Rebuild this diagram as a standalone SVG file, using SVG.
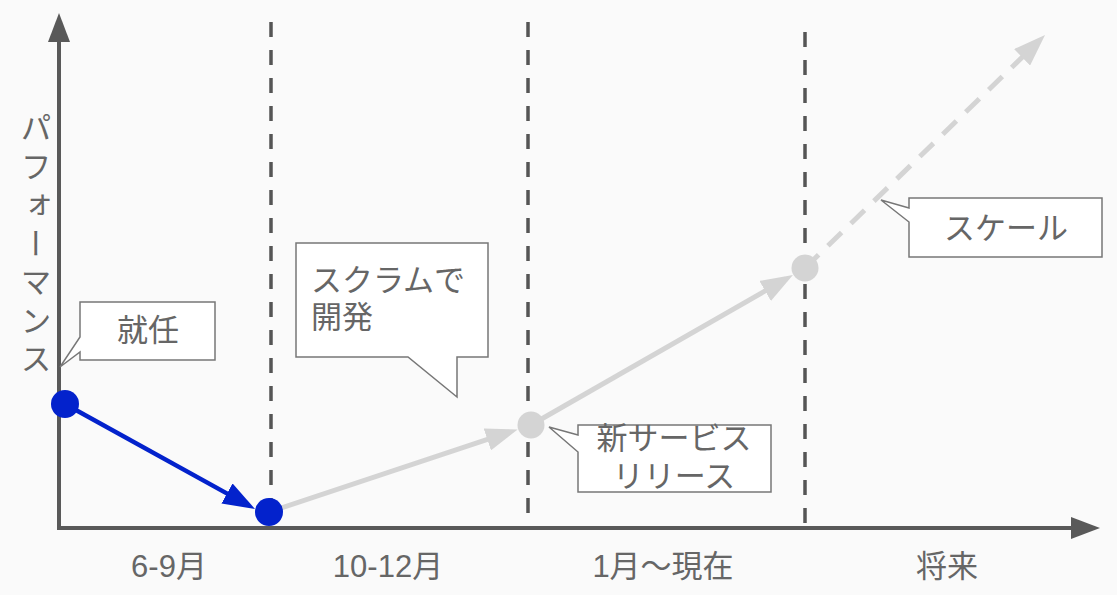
<svg xmlns="http://www.w3.org/2000/svg" width="1117" height="595" viewBox="0 0 1117 595">
<style>
  text { font-family: "Liberation Sans", "Noto Sans CJK JP", sans-serif; font-size: 31px; fill: #666666; }
  .axis { stroke: #595959; stroke-width: 4; fill: none; }
  .period { stroke: #555555; stroke-width: 3.5; stroke-dasharray: 15 13; fill: none; }
  .blue { stroke: #0322CC; stroke-width: 4.5; fill: none; }
  .gray { stroke: #D4D4D4; stroke-width: 5; fill: none; }
  .grayd { stroke: #D4D4D4; stroke-width: 5; stroke-dasharray: 19 13; fill: none; }
  .callout { fill: #ffffff; stroke: #777777; stroke-width: 1.5; stroke-linejoin: miter; }
  .mid { text-anchor: middle; }
</style>
<defs>
  <marker id="axisHead" markerUnits="userSpaceOnUse" markerWidth="30" markerHeight="22" refX="21" refY="11" orient="auto">
    <path d="M0,0 L29,11 L0,22 z" fill="#595959"/>
  </marker>
  <marker id="blueHead" markerUnits="userSpaceOnUse" markerWidth="33" markerHeight="23" refX="24" refY="11.5" orient="auto">
    <path d="M0,0 L32,11.5 L0,23 z" fill="#0322CC"/>
  </marker>
  <marker id="grayHead" markerUnits="userSpaceOnUse" markerWidth="33" markerHeight="23" refX="24" refY="11.5" orient="auto">
    <path d="M0,0 L32,11.5 L0,23 z" fill="#D4D4D4"/>
  </marker>
</defs>
<rect width="1117" height="595" fill="#fafafa"/>

<g id="period-lines">
  <line class="period" x1="271" y1="22" x2="271" y2="526"/>
  <line class="period" x1="528" y1="22" x2="528" y2="526"/>
  <line class="period" x1="805" y1="32" x2="805" y2="526"/>
</g>

<g id="axes">
  <line class="axis" x1="59" y1="528" x2="59" y2="21" marker-end="url(#axisHead)"/>
  <line class="axis" x1="57" y1="528" x2="1092" y2="528" marker-end="url(#axisHead)"/>
</g>

<g id="connectors">
  <line class="blue" x1="65" y1="404" x2="248" y2="505.1" marker-end="url(#blueHead)"/>
  <line class="gray" x1="269" y1="512" x2="510.1" y2="431.9" marker-end="url(#grayHead)"/>
  <line class="gray" x1="531" y1="425" x2="786" y2="279" marker-end="url(#grayHead)"/>
  <line class="grayd" x1="805" y1="268" x2="1039.3" y2="40.6" marker-end="url(#grayHead)"/>
</g>

<g id="point-start"><circle cx="65" cy="404" r="14" fill="#0322CC"/></g>
<g id="point-scrum"><circle cx="269" cy="512" r="14" fill="#0322CC"/></g>
<g id="point-release"><circle cx="531" cy="425" r="13.5" fill="#D4D4D4"/></g>
<g id="point-scale"><circle cx="805" cy="268" r="13.5" fill="#D4D4D4"/></g>

<g id="callout-shunin">
  <path class="callout" d="M80,302 L215,302 L215,360 L80,360 L80,352 L60,367 L80,337 Z"/>
  <text class="mid" x="148" y="341">就任</text>
</g>
<g id="callout-scrum">
  <path class="callout" d="M296,243 L488,243 L488,357 L457,357 L457,397 L408,357 L296,357 Z"/>
  <text x="311" y="291">スクラムで</text>
  <text x="311" y="328">開発</text>
</g>
<g id="callout-release">
  <path class="callout" d="M578,425 L771,425 L771,492 L578,492 L578,452 L549,427 L578,435 Z"/>
  <text class="mid" x="674" y="449">新サービス</text>
  <text class="mid" x="674" y="487">リリース</text>
</g>
<g id="callout-scale">
  <path class="callout" d="M909,198 L1102,198 L1102,257 L909,257 L909,222 L881,200 L909,208 Z"/>
  <text class="mid" x="1006" y="239">スケール</text>
</g>

<g id="y-label">
  <text x="33" y="112" writing-mode="vertical-rl" letter-spacing="7.5">パフォーマンス</text>
</g>
<g id="x-labels">
  <text class="mid" x="169" y="577">6-9月</text>
  <text class="mid" x="388" y="577">10-12月</text>
  <text class="mid" x="663" y="577">1月〜現在</text>
  <text class="mid" x="947" y="577">将来</text>
</g>
</svg>
